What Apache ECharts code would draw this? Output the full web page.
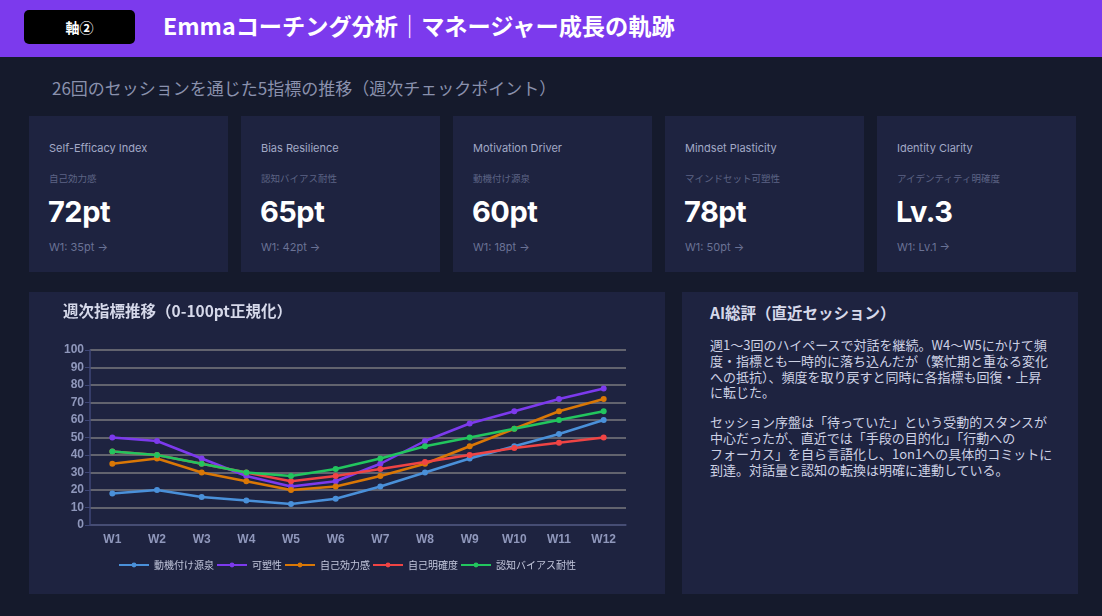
<!DOCTYPE html>
<html>
<head>
<meta charset="utf-8">
<script src="https://cdn.jsdelivr.net/npm/echarts@6/dist/echarts.min.js"></script>
<style>
  body { margin:0; width:1102px; height:616px; background:#151a2c; font-family:"Noto Sans","Noto Sans CJK JP",sans-serif; overflow:hidden; position:relative; }
  .hdr { position:absolute; left:0; top:0; width:1102px; height:57px; background:#7c3aed; }
  .badge { position:absolute; left:24px; top:10px; width:111px; height:34px; background:#000; border-radius:5px; color:#fff; font-size:14px; font-weight:bold; text-align:center; line-height:34px; font-family:"Noto Sans CJK JP",sans-serif; }
  .ttl { position:absolute; left:163px; top:9px; color:#fff; font-size:23.2px; font-weight:bold; line-height:32px; font-family:"Noto Sans CJK JP",sans-serif; }
  .sub { position:absolute; left:52px; top:75px; color:#8a91ad; font-size:17px; font-family:"Noto Sans CJK JP",sans-serif; }
  .card { position:absolute; top:116px; width:199px; height:156px; background:#1e2340; }
  .card .en { position:absolute; left:20px; top:25px; font-size:11px; color:#a2a9c6; font-family:Inter,"Noto Sans",sans-serif; }
  .card .jp { position:absolute; left:20px; top:55px; font-size:9.5px; color:#5d6485; font-family:"Noto Sans CJK JP",sans-serif; }
  .card .val { position:absolute; left:19px; top:78px; font-size:29px; font-weight:bold; color:#fff; font-family:Inter,"Noto Sans",sans-serif; letter-spacing:-0.5px; }
  .card .w1 { position:absolute; left:20px; top:124px; font-size:11px; color:#6a7295; font-family:Inter,"Noto Sans",sans-serif; }
  .panel { position:absolute; top:292px; height:302px; background:#1e2340; }
  #chart { position:absolute; left:29px; top:292px; width:636px; height:302px; }
  .ai h3 { position:absolute; left:28px; top:9px; margin:0; font-size:15.5px; color:#d6d9ea; font-family:"Noto Sans CJK JP",sans-serif; font-weight:bold; }
  .ai .txt { position:absolute; left:28px; top:45px; width:380px; white-space:nowrap; font-size:13px; line-height:15.8px; color:#cdd1e4; font-family:"Noto Sans CJK JP",sans-serif; }
  .ai p { margin:0 0 14px 0; }
</style>
</head>
<body>
<div class="hdr">
  <div class="badge">軸②</div>
  <div class="ttl">Emmaコーチング分析｜マネージャー成長の軌跡</div>
</div>
<div class="sub">26回のセッションを通じた5指標の推移（週次チェックポイント）</div>
<div id="cards"></div>
<div class="panel" style="left:29px;width:636px;"></div>
<div id="chart"></div>
<div class="panel ai" style="left:682px;width:396px;">
  <h3>AI総評（直近セッション）</h3>
  <div class="txt">
    <p>週1〜3回のハイペースで対話を継続。W4〜W5にかけて頻<br>度・指標とも一時的に落ち込んだが（繁忙期と重なる変化<br>への抵抗）、頻度を取り戻すと同時に各指標も回復・上昇<br>に転じた。</p>
    <p>セッション序盤は「待っていた」という受動的スタンスが<br>中心だったが、直近では「手段の目的化」「行動への<br>フォーカス」を自ら言語化し、1on1への具体的コミットに<br>到達。対話量と認知の転換は明確に連動している。</p>
  </div>
</div>
<script>
// KPI cards
const cardEn = ['Self-Efficacy Index', 'Bias Resilience', 'Motivation Driver', 'Mindset Plasticity', 'Identity Clarity'];
const cardJp = ['自己効力感', '認知バイアス耐性', '動機付け源泉', 'マインドセット可塑性', 'アイデンティティ明確度'];
const cardNow = ['72pt', '65pt', '60pt', '78pt', 'Lv.3'];
const cardW1 = ['W1: 35pt →', 'W1: 42pt →', 'W1: 18pt →', 'W1: 50pt →', 'W1: Lv.1 →'];

// weekly chart data
const weeks = ['W1','W2','W3','W4','W5','W6','W7','W8','W9','W10','W11','W12'];
const motivation = [18, 20, 16, 14, 12, 15, 22, 30, 38, 45, 52, 60];
const plasticity = [50, 48, 38, 28, 22, 25, 35, 48, 58, 65, 72, 78];
const selfEfficacy = [35, 38, 30, 25, 20, 22, 28, 35, 45, 55, 65, 72];
const identity = [42, 40, 35, 30, 25, 28, 32, 36, 40, 44, 47, 50];
const biasResilience = [42, 40, 35, 30, 28, 32, 38, 45, 50, 55, 60, 65];

const cards = document.getElementById('cards');
cardEn.forEach((en, i) => {
  const d = document.createElement('div');
  d.className = 'card';
  d.style.left = (29 + i * 212) + 'px';
  d.innerHTML = `<div class="en">${en}</div><div class="jp">${cardJp[i]}</div>` +
    `<div class="val">${cardNow[i]}</div><div class="w1">${cardW1[i]}</div>`;
  cards.appendChild(d);
});

const mk = (name, data, color) => ({
  name, type: 'line', data,
  symbol: 'circle', symbolSize: 6,
  lineStyle: { width: 2.5, color },
  itemStyle: { color }
});

const chart = echarts.init(document.getElementById('chart'));
chart.setOption({
  animation: false,
  title: {
    text: '週次指標推移（0-100pt正規化）',
    left: 34, top: 11, padding: 0,
    textStyle: { color: '#d6d9ea', fontSize: 15.5, fontWeight: 'bold', fontFamily: 'Noto Sans CJK JP' }
  },
  grid: { left: 61, right: 39, top: 58, bottom: 69 },
  legend: {
    bottom: 19, left: 'center',
    itemWidth: 30, itemHeight: 6, itemGap: 2,
    textStyle: { color: '#c3c7dc', fontSize: 10, fontFamily: 'Noto Sans CJK JP' },
    data: ['動機付け源泉', '可塑性', '自己効力感', '自己明確度', '認知バイアス耐性']
  },
  xAxis: {
    type: 'category', data: weeks,
    axisLine: { lineStyle: { color: '#3f4777', width: 1.5 } },
    axisTick: { lineStyle: { color: '#3f4777' } },
    axisLabel: { color: '#8f97bb', fontSize: 12, fontWeight: 'bold', margin: 9 }
  },
  yAxis: {
    type: 'value', min: 0, max: 100, interval: 10,
    axisLine: { show: true, lineStyle: { color: '#3f4777', width: 1.5 } },
    axisTick: { show: true, lineStyle: { color: '#3f4777' } },
    axisLabel: { color: '#8f97bb', fontSize: 12, fontWeight: 'bold', margin: 6 },
    splitLine: { lineStyle: { color: '#7a7a7e', width: 1.5 } }
  },
  series: [
    mk('動機付け源泉', motivation, '#4a90d9'),
    mk('可塑性', plasticity, '#7c3aed'),
    mk('自己効力感', selfEfficacy, '#d97706'),
    mk('自己明確度', identity, '#ef4444'),
    mk('認知バイアス耐性', biasResilience, '#22c55e')
  ]
});
</script>
</body>
</html>
